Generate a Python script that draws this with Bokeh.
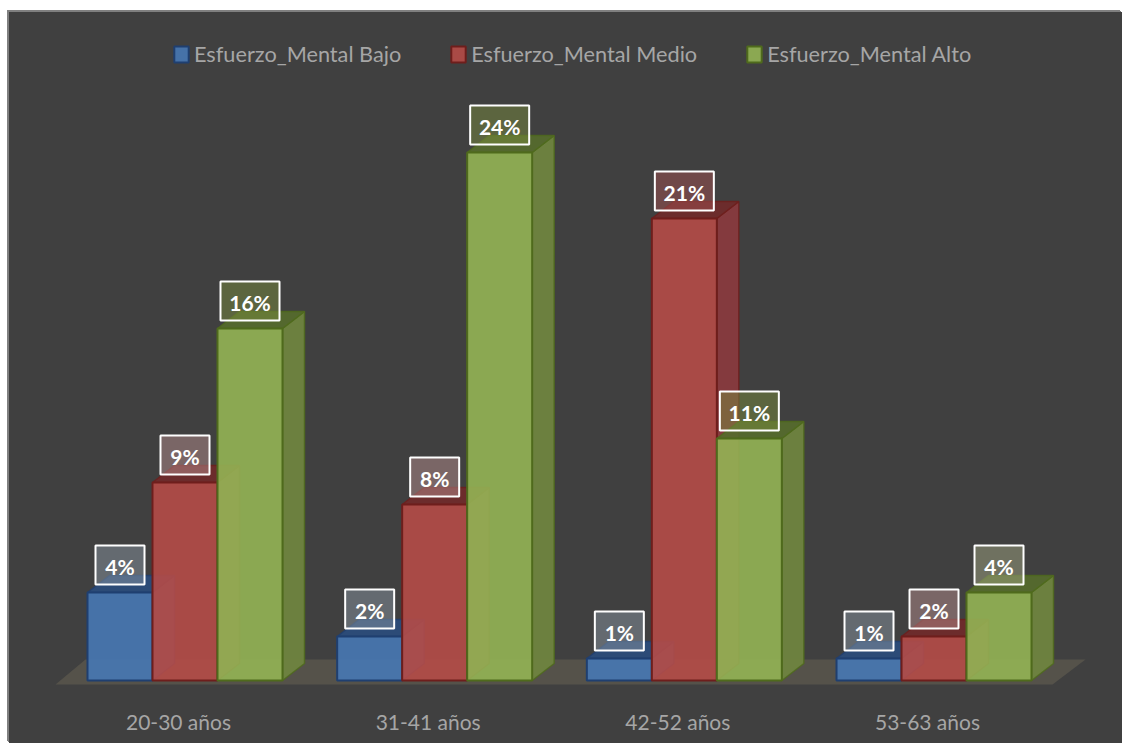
from bokeh.core.properties import value
from bokeh.embed import file_html
from bokeh.models import ColumnDataSource, FixedTicker, Legend, LegendItem, Range1d
from bokeh.plotting import figure
from bokeh.resources import INLINE

# Chart content
categories = ["20-30 años", "31-41 años", "42-52 años", "53-63 años"]
series_names = ["Esfuerzo_Mental Bajo", "Esfuerzo_Mental Medio", "Esfuerzo_Mental Alto"]
bajo = [4, 2, 1, 1]
medio = [9, 8, 21, 2]
alto = [16, 24, 11, 4]

# Per-series styling: front, side, top, edge, label-box fill for short and tall bars
palette = [
    ("#4778B4", "#3A5E8E", "#2A4C7C", "#1F3F70", "#8894A0", "#8894A0"),
    ("#B54B47", "#8A3A3E", "#702A2A", "#6E1E1C", "#B48C8C", "#A05050"),
    ("#94B454", "#70863F", "#566B2C", "#4F6A1C", "#9EA280", "#788A3E"),
]
TALL_LABEL_FROM = 10

# Scale geometry (pixels per unit, and the chart's position on the page)
PANEL_LEFT, PANEL_TOP, PAGE_W, PAGE_H = 9, 12, 1122, 743
FRAME_BOTTOM = 700
BASELINE = 680
PX_PER_PERCENT = 22.0
PX_PER_GROUP = 249.67
FIRST_GROUP = 184.5
BAR_W = 65 / PX_PER_GROUP
DEPTH_X = 22 / PX_PER_GROUP
DEPTH_Y = 17 / PX_PER_PERCENT
TICK_SHIFT = -6.5 / PX_PER_GROUP


def px_x(px):
    return (px - FIRST_GROUP) / PX_PER_GROUP


def px_y(px):
    return (BASELINE - px) / PX_PER_PERCENT


p = figure(
    frame_width=PAGE_W - PANEL_LEFT,
    frame_height=FRAME_BOTTOM - PANEL_TOP,
    x_range=Range1d(px_x(PANEL_LEFT), px_x(PAGE_W)),
    y_range=Range1d(px_y(FRAME_BOTTOM), px_y(PANEL_TOP)),
    output_backend="svg",
    toolbar_location=None,
    margin=(PANEL_TOP, 0, 0, PANEL_LEFT),
    min_border_left=0,
    min_border_right=0,
    min_border_top=0,
    min_border_bottom=PAGE_H - FRAME_BOTTOM,
    background_fill_color=None,
    border_fill_color=None,
    outline_line_color=None,
    styles={
        "background-color": "#404040",
        "box-shadow": "-1px -1px 0 #808080, -2px -2px 0 #808080",
    },
)
p.grid.visible = False
p.yaxis.visible = False

axis = p.xaxis[0]
tick_positions = [i + TICK_SHIFT for i in range(len(categories))]
axis.ticker = FixedTicker(ticks=tick_positions)
axis.major_label_overrides = dict(zip(tick_positions, categories))
axis.axis_line_color = None
axis.major_tick_line_color = None
axis.major_tick_out = 0
axis.minor_tick_line_color = None
axis.minor_tick_out = 0
axis.major_label_standoff = 8
axis.major_label_text_color = "#A6A6A6"
axis.major_label_text_font = "Lato"
axis.major_label_text_font_size = "21px"

# Floor of the 3D scene
p.patch(
    [px_x(55), px_x(1052), px_x(1085), px_x(85)],
    [px_y(684), px_y(684), px_y(659), px_y(659)],
    fill_color="#55524A",
    line_color=None,
)

legend_items = []
for s, (values, name, colors) in enumerate(zip([bajo, medio, alto], series_names, palette)):
    front, side, top, edge = colors[:4]
    left = [i + (s - 1.5) * BAR_W for i in range(len(values))]
    right = [x + BAR_W for x in left]

    # Side face
    p.patches(
        [[r, r + DEPTH_X, r + DEPTH_X, r] for r in right],
        [[0, DEPTH_Y, v + DEPTH_Y, v] for v in values],
        fill_color=side, fill_alpha=0.92, line_color=edge, line_width=1.5, line_alpha=0.8,
    )
    # Top face
    p.patches(
        [[l, r, r + DEPTH_X, l + DEPTH_X] for l, r in zip(left, right)],
        [[v, v, v + DEPTH_Y, v + DEPTH_Y] for v in values],
        fill_color=top, fill_alpha=0.92, line_color=edge, line_width=1.5, line_alpha=0.8,
    )
    # Front face
    src = ColumnDataSource(dict(left=left, right=right, top=values, bottom=[0] * len(values)))
    r_front = p.quad(
        left="left", right="right", top="top", bottom="bottom", source=src,
        fill_color=front, fill_alpha=0.9, line_color=edge, line_width=2,
    )
    legend_items.append(LegendItem(label=name, renderers=[r_front]))

# Value labels sit above each bar's front edge
LABEL_GAP = (8 + 19.5) / PX_PER_PERCENT
for s, (values, colors) in enumerate(zip([bajo, medio, alto], palette)):
    xs = [i + (s - 1) * BAR_W for i in range(len(values))]
    ys = [v + LABEL_GAP for v in values]
    texts = [f"{v}%" for v in values]
    widths = [59 if v >= 10 else 49 for v in values]
    fills = [colors[5] if v >= TALL_LABEL_FROM else colors[4] for v in values]
    src = ColumnDataSource(dict(x=xs, y=ys, text=texts, w=widths, fill=fills))
    p.rect(
        x="x", y="y", width="w", height=39, width_units="screen", height_units="screen", source=src,
        fill_color="fill", fill_alpha=0.5, line_color="white", line_width=2,
    )
    p.text(
        x="x", y="y", text="text", source=src, y_offset=1,
        text_align="center", text_baseline="middle", text_color="white",
        text_font=value("Lato"), text_font_style="bold", text_font_size="21px",
    )

legend = Legend(
    items=legend_items,
    orientation="horizontal",
    location=(163, 633),
    border_line_color=None,
    background_fill_alpha=0,
    padding=0,
    margin=0,
    spacing=48,
    glyph_width=18,
    glyph_height=20,
    label_standoff=4,
    label_text_color="#A6A6A6",
    label_text_font="Lato",
    label_text_font_size="21.7px",
)
p.add_layout(legend)

open("out.html", "w").write(file_html(p, INLINE))
